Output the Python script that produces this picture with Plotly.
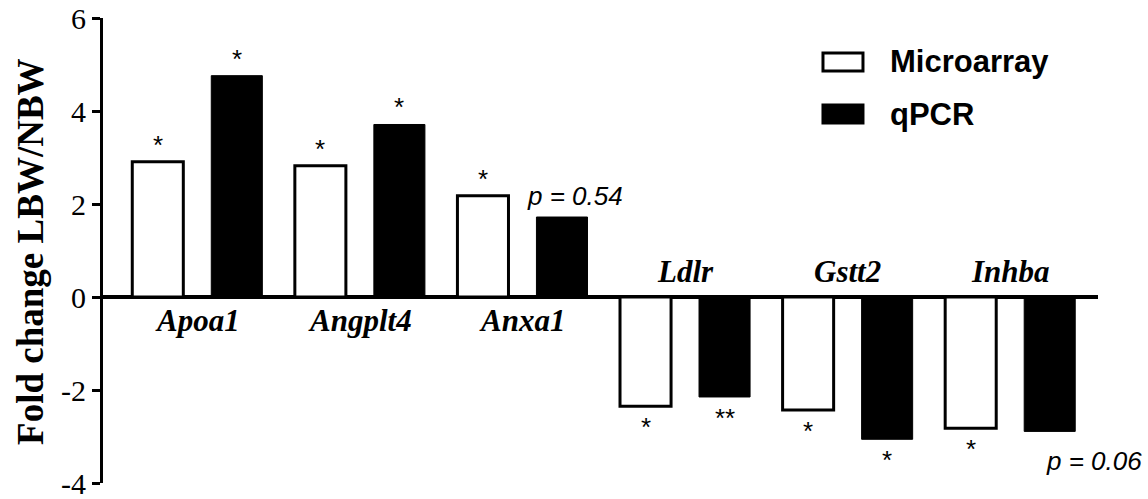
import plotly.graph_objects as go

# Fold change (LBW vs NBW) for each gene, measured by microarray and qPCR
genes = ["Apoa1", "Angplt4", "Anxa1", "Ldlr", "Gstt2", "Inhba"]
microarray = [2.91, 2.82, 2.18, -2.35, -2.43, -2.82]
qpcr = [4.76, 3.71, 1.72, -2.15, -3.06, -2.89]
microarray_sig = ["*", "*", "*", "*", "*", "*"]
qpcr_sig = ["*", "*", "p = 0.54", "**", "*", "p = 0.06"]
y_ticks = [-4, -2, 0, 2, 4, 6]

SERIF = "Liberation Serif, Times New Roman, serif"
SANS = "Liberation Sans, Arial, sans-serif"

fig = go.Figure()
fig.add_trace(go.Bar(
    x=genes, y=microarray, name="Microarray",
    marker=dict(color="white", line=dict(color="black", width=3)),
))
fig.add_trace(go.Bar(
    x=genes, y=qpcr, name="qPCR",
    marker=dict(color="black", line=dict(color="black", width=1)),
))

annotations = []
# gene names: below the zero line for up-regulated genes, above for down-regulated
for g, m in zip(genes, microarray):
    annotations.append(dict(
        x=g, y=0, xref="x", yref="y", text=f"<b><i>{g}</i></b>",
        showarrow=False, font=dict(family=SERIF, size=31, color="black"),
        yanchor="top" if m > 0 else "bottom",
        yshift=-4 if m > 0 else 6,
    ))

# significance markers beside each bar end
offset = 0.243
for i, g in enumerate(genes):
    for val, sig, dx in ((microarray[i], microarray_sig[i], -offset),
                         (qpcr[i], qpcr_sig[i], offset)):
        up = val > 0
        if sig.startswith("p"):
            annotations.append(dict(
                x=i + dx, y=val, xref="x", yref="y", text=f"<i>{sig}</i>",
                showarrow=False, font=dict(family=SANS, size=26, color="black"),
                yanchor="bottom" if up else "top",
                xshift=13 if up else 44,
                yshift=4 if up else -13,
            ))
        else:
            annotations.append(dict(
                x=i + dx, y=val, xref="x", yref="y", text=sig,
                showarrow=False, font=dict(family=SANS, size=26, color="black"),
                yanchor="bottom" if up else "top",
                yshift=0 if up else -4,
            ))

# axis title
annotations.append(dict(
    x=-0.0724, y=0.499, xref="paper", yref="paper",
    text="<b>Fold change LBW/NBW</b>", textangle=-90, showarrow=False,
    font=dict(family=SERIF, size=37, color="black"),
    xanchor="center", yanchor="middle",
))

# legend entries
legend_rows = [("Microarray", "white", 0.9054), ("qPCR", "black", 0.7935)]
shapes = []
for label, fill, yc in legend_rows:
    shapes.append(dict(
        type="rect", xref="paper", yref="paper",
        x0=0.7236, x1=0.7638, y0=yc - 0.0194, y1=yc + 0.0194,
        fillcolor=fill, line=dict(color="black", width=3),
    ))
    annotations.append(dict(
        x=0.789, y=yc, xref="paper", yref="paper", text=f"<b>{label}</b>",
        showarrow=False, xanchor="left", yanchor="middle",
        font=dict(family=SANS, size=31, color="black"),
    ))

fig.update_layout(
    width=1148, height=499,
    margin=dict(l=103, r=50, t=18, b=16),
    paper_bgcolor="white", plot_bgcolor="white",
    barmode="group", bargap=0.028, bargroupgap=0.354,
    showlegend=False,
    annotations=annotations, shapes=shapes,
    xaxis=dict(
        range=[-0.58, 5.54], showticklabels=False, ticks="",
        showgrid=False, showline=False, zeroline=False, automargin=False,
    ),
    yaxis=dict(
        range=[-4, 6], tickvals=y_ticks, ticktext=[str(t) for t in y_ticks],
        showgrid=False, showline=True, linecolor="black", linewidth=3,
        ticks="outside", ticklen=8, tickwidth=3, tickcolor="black",
        zeroline=True, zerolinecolor="black", zerolinewidth=3.5,
        tickfont=dict(family=SERIF, size=30, color="black"),
        ticklabeloverflow="allow", automargin=False,
    ),
)

fig.write_html("out.html")
